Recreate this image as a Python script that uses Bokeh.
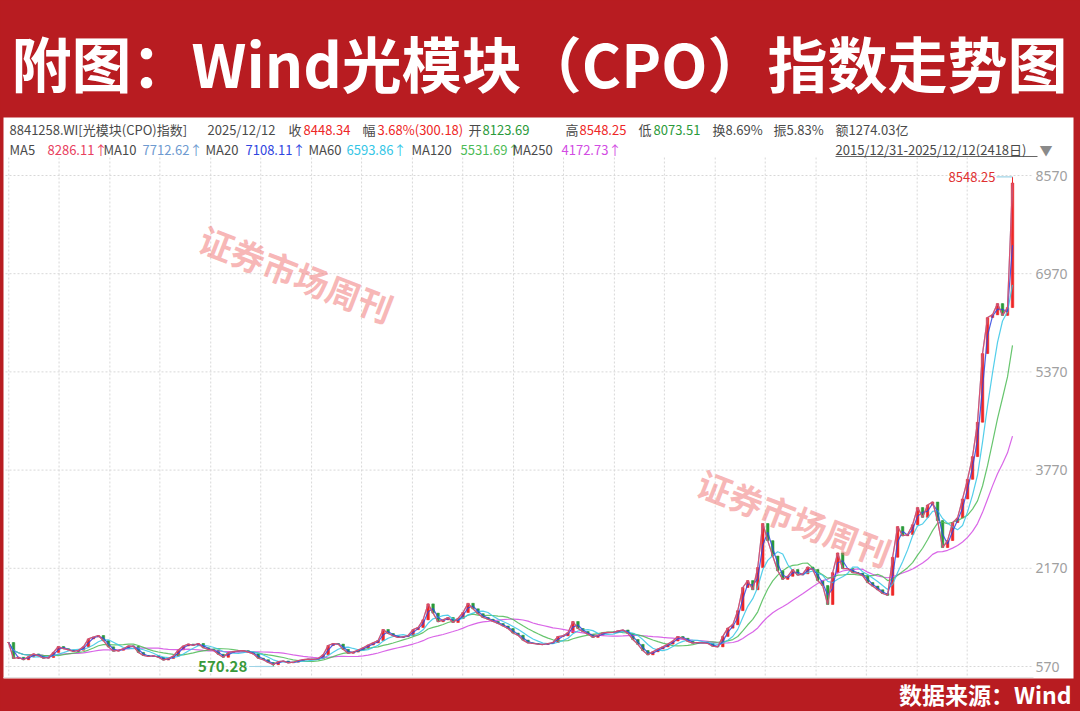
import numpy as np
import pandas as pd
from bokeh.plotting import figure
from bokeh.models import Range1d, Label, ColumnDataSource
from bokeh.embed import file_html
from bokeh.resources import INLINE

# ---------------- data ----------------
title_text = "附图：Wind光模块（CPO）指数走势图"
source_note = "数据来源：Wind"
security = "8841258.WI[光模块(CPO)指数]"
quote_date = "2025/12/12"
quote_labels = ["收", "幅", "开", "高", "低"]
quote_values = ["8448.34", "3.68%(300.18)", "8123.69", "8548.25", "8073.51"]
extra_stats = ["换8.69%", "振5.83%", "额1274.03亿"]
ma_names = ["MA5", "MA10", "MA20", "MA60", "MA120", "MA250"]
ma_days = [5, 10, 20, 60, 120, 250]
ma_last = ["8286.11", "7712.62", "7108.11", "6593.86", "5531.69", "4172.73"]
period_text = "2015/12/31-2025/12/12(2418日)"
start_date = "2015-12-31"
end_date = "2025-12-12"
trading_days = 2418
y_ticks = [570, 2170, 3770, 5370, 6970, 8570]
period_high = 8548.25
period_low = 570.28
period_low_pos = 53
watermark = "证券市场周刊"

# closes at evenly spaced points (about every 12 trading days)
closes = [
    961, 700, 720, 680, 730, 775, 745, 705, 717, 800,
    896, 860, 840, 814, 835, 890, 1020, 1050, 1075, 990,
    890, 820, 835, 860, 905, 900, 800, 750, 733, 745,
    720, 675, 700, 740, 840, 905, 935, 915, 945, 875,
    850, 835, 770, 720, 798, 812, 825, 828, 805, 775,
    705, 680, 635, 600, 650, 660, 630, 640, 668, 684,
    690, 685, 700, 760, 912, 945, 935, 850, 785, 805,
    840, 875, 920, 955, 993, 1173, 1107, 1070, 1042, 1055,
    1075, 1170, 1205, 1330, 1590, 1440, 1300, 1330, 1368, 1287,
    1352, 1450, 1600, 1510, 1430, 1368, 1340, 1305, 1270, 1230,
    1189, 1115, 1080, 1000, 955, 945, 935, 928, 945, 961,
    1059, 1070, 1120, 1303, 1189, 1140, 1095, 1045, 1080, 1120,
    1125, 1124, 1150, 1165, 1110, 1010, 930, 830, 760, 810,
    855, 890, 935, 985, 1059, 1030, 980, 950, 961, 955,
    945, 900, 890, 1060, 1195, 1250, 1480, 1857, 1970, 1820,
    2183, 2900, 2620, 2370, 2130, 1990, 2040, 2150, 2060, 2080,
    2190, 2150, 1970, 1889, 1580, 2100, 2420, 2166, 2166, 2101,
    2090, 2050, 1938, 1880, 1820, 1759, 1730, 2350, 2850, 2700,
    2720, 2880, 3160, 3000, 3200, 3250, 2948, 2508, 2622, 2915,
    2990, 3300, 3620, 3990, 4550, 5669, 6255, 6300, 6483, 6290,
    6418, 8448,
]

# ---------------- styles / geometry ----------------
RED_BG = "#b81c21"
W, H = 1080, 711
FONT = "Noto Sans CJK SC"
GRAY = "#4a4a4a"
UP = "#ee2626"
DOWN = "#2a9a3a"
GRID = "#d8d8d8"
ma_colors = ["#e8405e", "#6e9ad0", "#2f45e0", "#35c6e6", "#4cbb55", "#d24be3"]

d0 = pd.Timestamp(start_date).value / 1e6
d1 = pd.Timestamp(end_date).value / 1e6
mpp = (d1 - d0) / 1004.0          # ms per pixel
ypp = 1600 / 98.2                  # price per pixel


def price_at(ry):                  # screen row -> price
    return 570 + (666 - ry) * ypp


p = figure(width=W, height=H, x_range=Range1d(0, W), y_range=Range1d(H, 0),
           toolbar_location=None, output_backend="svg", min_border=0,
           x_axis_location=None, y_axis_location=None)
p.background_fill_color = RED_BG
p.border_fill_color = RED_BG
p.outline_line_color = None
p.xgrid.visible = False
p.ygrid.visible = False
p.extra_x_ranges = {"date": Range1d(d0 - 8 * mpp, d0 - 8 * mpp + W * mpp)}
p.extra_y_ranges = {"price": Range1d(price_at(H), price_at(0))}
DR = dict(x_range_name="date", y_range_name="price")

# white panel
p.quad(left=[3], right=[1073], top=[117], bottom=[678], fill_color="white", line_color=None)

# title
p.add_layout(Label(x=539, y=61, text=title_text, text_align="center", text_baseline="middle",
                   text_color="white", text_font=FONT, text_font_size="60px",
                   text_font_style="bold"))


# header rows
def htxt(x, y, s, color=GRAY):
    p.add_layout(Label(x=x, y=y, text=s, text_align="left", text_baseline="middle",
                       text_color=color, text_font=FONT, text_font_size="13px"))


r1, r2 = 129, 149
htxt(9, r1, security)
htxt(207, r1, quote_date)
q_label_x = [288, 362, 468, 565, 638]
q_value_x = [303, 377, 482, 579, 653]
q_colors = [UP, UP, DOWN, UP, DOWN]
for lab, val, lx, vx, c in zip(quote_labels, quote_values, q_label_x, q_value_x, q_colors):
    htxt(lx, r1, lab)
    htxt(vx, r1, val, c)
for s, x in zip(extra_stats, [712, 773, 835]):
    htxt(x, r1, s)
ma_name_x = [9, 103, 205, 308, 411, 512]
ma_val_x = [47, 142, 245, 346, 460, 561]
for name, val, nx, vx, c in zip(ma_names, ma_last, ma_name_x, ma_val_x, ma_colors):
    htxt(nx, r2, name)
    htxt(vx, r2, val + "↑", c)
htxt(835, r2, period_text)
p.line([835, 1037], [156, 156], line_color="#666666", line_width=1)
htxt(1039, r2, "▼", "#8a8a8a")

# grid lines
half_years = [pd.Timestamp(f"{y}-{m:02d}-01").value / 1e6 for y in range(2016, 2026) for m in (1, 7)]
p.segment(x0=half_years, y0=[157] * len(half_years), x1=half_years, y1=[677] * len(half_years),
          line_color=GRID, line_dash="2 2", line_width=1, x_range_name="date")
p.segment(x0=[5] * len(y_ticks), y0=y_ticks, x1=[1033] * len(y_ticks), y1=y_ticks,
          line_color=GRID, line_dash="2 2", line_width=1, y_range_name="price")
p.line([3, 1033], [677, 677], line_color="#e2e2e2", line_width=1)

# price tick labels (right side)
p.text(x=[1035] * len(y_ticks), y=y_ticks, text=[str(v) for v in y_ticks],
       text_align="left", text_baseline="middle", text_color="#a0a0a0",
       text_font_size="14px", text_font={"value": "Noto Sans"}, y_range_name="price")

# watermarks
for rx, ry in [(296, 273), (794, 517)]:
    p.add_layout(Label(x=rx, y=ry, text=watermark, text_align="center",
                       text_baseline="middle", angle=-0.37, text_color="#ef6f6f",
                       text_alpha=0.5, text_font=FONT, text_font_size="34px",
                       text_font_style="bold"))

# candles
dates = pd.date_range(start_date, end_date, periods=len(closes))
xs = np.array([d.value / 1e6 for d in dates])
opens = [closes[0]] + closes[:-1]
tops = [max(o, c) for o, c in zip(opens, closes)]
bots = [min(o, c) for o, c in zip(opens, closes)]
highs = list(tops)
lows = list(bots)
highs[-1] = period_high
lows[period_low_pos] = period_low
cols = [UP if c >= o else DOWN for o, c in zip(opens, closes)]
src = ColumnDataSource(dict(x=xs, top=tops, bottom=bots, high=highs, low=lows, color=cols))
p.segment(x0="x", y0="high", x1="x", y1="low", line_color="color", line_width=1, source=src, **DR)
p.vbar(x="x", width=2.6 * mpp, top="top", bottom="bottom", fill_color="color",
       line_color="color", line_width=0.5, source=src, **DR)

# moving averages
s = pd.Series(closes, dtype=float)
days_per_sample = trading_days / (len(closes) - 1)
for d, c in reversed(list(zip(ma_days, ma_colors))):
    win = max(1, int(round(d / days_per_sample)))
    ma = s.rolling(win, min_periods=1).mean()
    p.line(xs, ma.values, line_color=c, line_width=1.2, line_alpha=0.85, **DR)

# extreme annotations
last_x = xs[-1]
p.segment(x0=[last_x - 16 * mpp], y0=[period_high], x1=[last_x], y1=[period_high],
          line_color="#9fd3e6", line_width=1.2, **DR)
p.add_layout(Label(x=last_x, y=period_high, x_offset=-17, text=f"{period_high:.2f}",
                   text_align="right", text_baseline="middle", text_color="#e03030",
                   text_font=FONT, text_font_size="13px", **DR))
low_x = xs[period_low_pos]
p.segment(x0=[low_x - 24 * mpp], y0=[period_low], x1=[low_x], y1=[period_low],
          line_color="#9fd3e6", line_width=1.2, **DR)
p.add_layout(Label(x=low_x, y=period_low, x_offset=-26, text=f"{period_low:.2f}",
                   text_align="right", text_baseline="middle", text_color="#3a9a3a",
                   text_font=FONT, text_font_size="15px", text_font_style="bold", **DR))

# footer
p.add_layout(Label(x=1071, y=693, text=source_note, text_align="right", text_baseline="middle",
                   text_color="white", text_font=FONT, text_font_size="23px",
                   text_font_style="bold"))

html = file_html(p, INLINE, title="Wind光模块（CPO）指数走势图")
html = html.replace("</head>",
                    f"<style>html,body{{margin:0;padding:0;overflow:hidden;background:{RED_BG};}}</style></head>", 1)
open("out.html", "w").write(html)
